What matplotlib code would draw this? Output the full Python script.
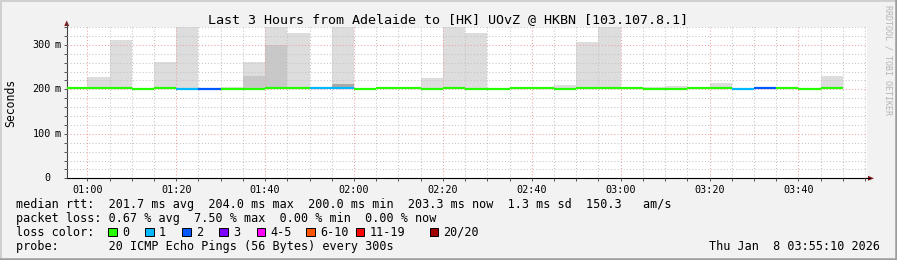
import matplotlib
matplotlib.use("Agg")
import matplotlib.pyplot as plt
from matplotlib.patches import Rectangle, Polygon
from matplotlib.lines import Line2D
from matplotlib.ticker import MultipleLocator

W, H = 897, 260
MONO = "DejaVu Sans Mono"

# 5 minute steps shown on the graph (start of each step)
step_times = [
    "00:55", "01:00", "01:05", "01:10", "01:15", "01:20", "01:25", "01:30", "01:35",
    "01:40", "01:45", "01:50", "01:55", "02:00", "02:05", "02:10", "02:15", "02:20",
    "02:25", "02:30", "02:35", "02:40", "02:45", "02:50", "02:55", "03:00", "03:05",
    "03:10", "03:15", "03:20", "03:25", "03:30", "03:35", "03:40", "03:45",
]
# median rtt per step (ms)
median_ms = [
    203.5, 203.5, 203.6, 201.7, 201.8, 200.2, 200.0, 200.2, 201.7,
    201.8, 204.0, 203.4, 203.5, 201.7, 203.6, 201.8, 201.7, 203.5,
    201.7, 200.1, 201.8, 203.6, 201.7, 203.5, 201.8, 203.6, 201.7,
    200.2, 201.8, 203.5, 201.7, 203.6, 201.8, 201.7, 203.3,
]
# lost pings per step (out of 20)
lost_pings = [
    0, 0, 0, 0, 0, 1, 2, 0, 0,
    0, 0, 1, 1, 0, 0, 0, 0, 0,
    0, 0, 0, 0, 0, 0, 0, 0, 0,
    0, 0, 0, 1, 2, 0, 0, 0,
]
# smoke: highest ping (outer band), inner bands where visible (ms, None = nothing)
smoke_max = [
    None, 227.7, 311.0, None, 262.0, 400.0, None, 204.5, 262.0,
    400.0, 327.0, None, 400.0, None, None, None, 225.0, 400.0,
    327.0, None, None, None, 209.7, 306.0, 400.0, None, 205.5,
    208.0, None, 213.5, None, None, None, None, 230.5,
]
smoke_mid = [
    None, None, None, None, None, None, None, None, 230.0,
    300.0, None, None, None, None, None, None, None, None,
    None, None, None, None, None, None, None, None, None,
    None, None, None, None, None, None, None, None,
]
smoke_inner = [
    None, None, None, None, None, None, None, None, None,
    None, None, None, 212.0, None, None, None, None, None,
    None, None, None, None, None, None, None, None, None,
    None, None, None, None, None, None, None, None,
]

xtick_times = ["01:00", "01:20", "01:40", "02:00", "02:20", "02:40", "03:00", "03:20", "03:40"]
ytick_values = [0, 100, 200, 300]
ytick_labels = ["0", "100", "200", "300"]

loss_names = ["0", "1", "2", "3", "4-5", "6-10", "11-19", "20/20"]
loss_colors = ["#26ff00", "#00b8ff", "#0059ff", "#7e00ff", "#ff00ff", "#ff5500", "#ff0000", "#a10000"]


def to_min(t):
    h, m = t.split(":")
    return int(h) * 60 + int(m)


def loss_color(n):
    if n <= 3:
        return loss_colors[n]
    if n <= 5:
        return loss_colors[4]
    if n <= 10:
        return loss_colors[5]
    if n <= 19:
        return loss_colors[6]
    return loss_colors[7]


def px(x, y):
    return (x / W, 1 - y / H)


fig = plt.figure(figsize=(W / 100, H / 100), dpi=100, facecolor="#f2f2f2")

ax_l, ax_r, ax_t, ax_b = 66.7, 866.7, 27.0, 178.3
ax = fig.add_axes([ax_l / W, 1 - ax_b / H, (ax_r - ax_l) / W, (ax_b - ax_t) / H])
ax.set_facecolor("white")
ax.set_xlim(55.36, 235.36)
ax.set_ylim(0, 340)

starts = [to_min(t) for t in step_times]

# smoke, outer to inner
for tops, col in [(smoke_max, "#dddddd"), (smoke_mid, "#c8c8c8"), (smoke_inner, "#a9a9a9")]:
    for s, m, top in zip(starts, median_ms, tops):
        if top is None:
            continue
        ax.bar(s, top - m, bottom=m, width=5, align="edge", color=col, linewidth=0, zorder=1)

# median band coloured by loss
ax.hlines(median_ms, starts, [s + 5 for s in starts],
          colors=[loss_color(n) for n in lost_pings], linewidth=1.6, zorder=4)

# grid
ax.xaxis.set_major_locator(MultipleLocator(20))
ax.xaxis.set_minor_locator(MultipleLocator(5))
ax.yaxis.set_major_locator(MultipleLocator(100))
ax.yaxis.set_minor_locator(MultipleLocator(20))
ax.set_axisbelow(False)
ax.grid(which="minor", color="#c4c4c4", linestyle=(0, (1, 2)), linewidth=0.75)
ax.grid(which="major", color="#f0a0a0", linestyle=(0, (1, 2)), linewidth=0.75)

ax.set_xticks([to_min(t) for t in xtick_times], xtick_times)
ax.tick_params(axis="x", which="both", length=2, width=0.7, color="#555555",
               labelsize=7.3, pad=2.5, labelcolor="black")
ax.tick_params(axis="y", which="both", length=2, width=0.7, color="#555555", labelleft=False)
for lab in ax.get_xticklabels():
    lab.set_family(MONO)

# y labels: number + unit columns like rrdtool
ytf = ax.get_yaxis_transform()
for v, lab in zip(ytick_values, ytick_labels):
    ax.text((50.8 - ax_l) / (ax_r - ax_l), v, lab, transform=ytf, ha="right", va="center",
            family=MONO, fontsize=7.3, clip_on=False)
    if v != 0:
        ax.text((54.5 - ax_l) / (ax_r - ax_l), v, "m", transform=ytf, ha="left", va="center",
                family=MONO, fontsize=7.3, clip_on=False)

for side in ["top", "right"]:
    ax.spines[side].set_visible(False)
ax.spines["left"].set_color("#444444")
ax.spines["bottom"].set_color("black")
ax.spines["left"].set_linewidth(0.8)
ax.spines["bottom"].set_linewidth(0.8)

# axis extensions with arrows
fig.add_artist(Line2D([px(ax_l, 0)[0]] * 2, [px(0, ax_t)[1], px(0, 23)[1]],
                      color="#444444", linewidth=0.8))
fig.add_artist(Line2D([px(ax_r, 0)[0], px(870, 0)[0]], [px(0, ax_b)[1]] * 2,
                      color="black", linewidth=0.8))
fig.add_artist(Polygon([px(64.2, 26), px(69.2, 26), px(66.7, 20.5)], closed=True,
                       facecolor="#8b1a1a", edgecolor="none", transform=fig.transFigure))
fig.add_artist(Polygon([px(868, 175.8), px(868, 180.8), px(874, 178.3)], closed=True,
                       facecolor="#8b1a1a", edgecolor="none", transform=fig.transFigure))

# titles
fig.text(*px(448, 19.3), "Last 3 Hours from Adelaide to [HK] UOvZ @ HKBN [103.107.8.1]",
         ha="center", va="center", family=MONO, fontsize=9.6)
fig.text(*px(10.7, 103), "Seconds", rotation=90, ha="center", va="center",
         family=MONO, fontsize=8.3)
fig.text(*px(887.7, 60), "RRDTOOL / TOBI OETIKER", rotation=270, ha="center", va="center",
         family=MONO, fontsize=6, color="#b4b4b4")

# legend lines
fig.text(*px(16, 204.3),
         "median rtt:  201.7 ms avg  204.0 ms max  200.0 ms min  203.3 ms now  1.3 ms sd  150.3   am/s",
         ha="left", va="center", family=MONO, fontsize=8.5)
fig.text(*px(16, 218.3), "packet loss: 0.67 % avg  7.50 % max  0.00 % min  0.00 % now",
         ha="left", va="center", family=MONO, fontsize=8.5)
fig.text(*px(16, 232.3), "loss color:", ha="left", va="center", family=MONO, fontsize=8.5)
box_x = [108.3, 145.3, 182.3, 219.3, 256.7, 306.3, 356.0, 430.0]
for bx, name, col in zip(box_x, loss_names, loss_colors):
    fig.add_artist(Rectangle(px(bx, 236.0), 8.3 / W, 8.3 / H, facecolor=col,
                             edgecolor="black", linewidth=0.7, transform=fig.transFigure))
    fig.text(*px(bx + 13.5, 232.3), name, ha="left", va="center", family=MONO, fontsize=8.5)
fig.text(*px(16, 246.3), "probe:       20 ICMP Echo Pings (56 Bytes) every 300s",
         ha="left", va="center", family=MONO, fontsize=8.5)
fig.text(*px(880, 246.3), "Thu Jan  8 03:55:10 2026", ha="right", va="center",
         family=MONO, fontsize=8.5)

# image frame
fig.add_artist(Line2D([0, 1], [px(0, 0.7)[1]] * 2, color="#d0d0d0", linewidth=1.4))
fig.add_artist(Line2D([px(0.7, 0)[0]] * 2, [0, 1], color="#d0d0d0", linewidth=1.4))
fig.add_artist(Line2D([0, 1], [px(0, 258.8)[1]] * 2, color="#9c9c9c", linewidth=1.8))
fig.add_artist(Line2D([px(895.8, 0)[0]] * 2, [0, 1], color="#9c9c9c", linewidth=1.8))

fig.savefig("out.png", dpi=100, facecolor=fig.get_facecolor())
